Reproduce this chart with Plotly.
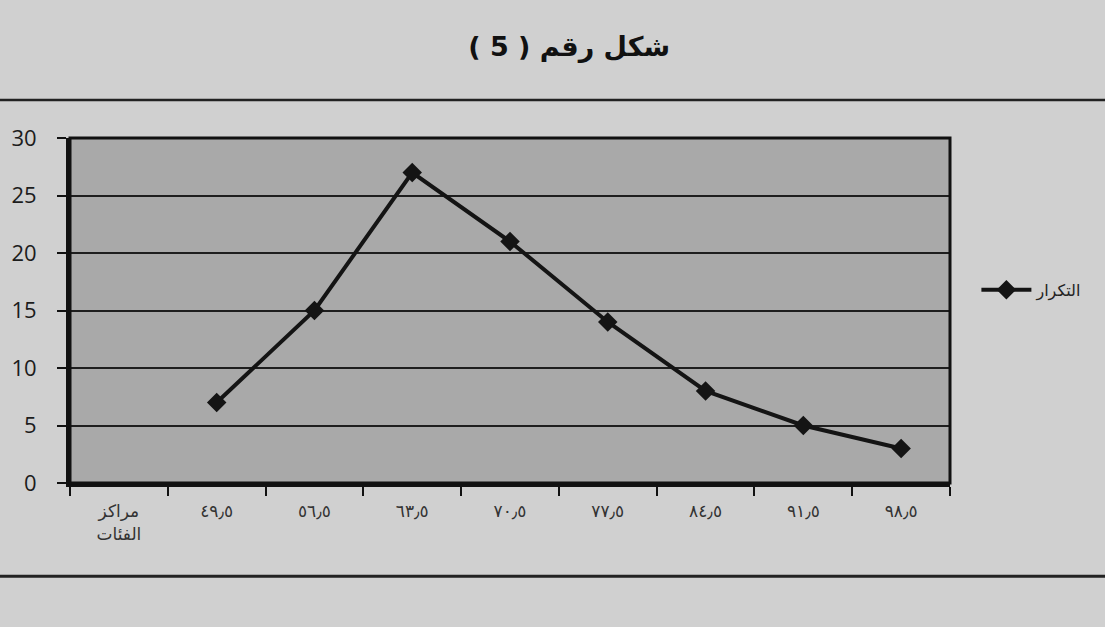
import plotly.graph_objects as go

# Class midpoints (first slot holds the axis caption) and their frequencies
categories = ["مراكز<br>الفئات", "٤٩٫٥", "٥٦٫٥", "٦٣٫٥", "٧٠٫٥", "٧٧٫٥", "٨٤٫٥", "٩١٫٥", "٩٨٫٥"]
frequency = [None, 7, 15, 27, 21, 14, 8, 5, 3]
y_ticks = [0, 5, 10, 15, 20, 25, 30]
series_name = "التكرار"
title_text = "شكل رقم ( 5 )"

fig = go.Figure()
fig.add_trace(go.Scatter(
    x=categories,
    y=frequency,
    mode="lines+markers",
    name=series_name,
    line=dict(color="#141414", width=4),
    marker=dict(symbol="diamond", size=15, color="#141414"),
    connectgaps=False,
    showlegend=True,
))

fig.update_layout(
    width=1105,
    height=627,
    margin=dict(l=70, r=155, t=138, b=144),
    paper_bgcolor="#d0d0d0",
    plot_bgcolor="#a9a9a9",
    title=dict(
        text=title_text,
        x=0.515, xanchor="center",
        y=0.925, yanchor="middle",
        font=dict(family="DejaVu Sans", size=27, color="#111111", weight="bold"),
    ),
    legend=dict(
        x=1.03, xanchor="left",
        y=0.56, yanchor="middle",
        bgcolor="rgba(0,0,0,0)",
        font=dict(family="DejaVu Sans", size=16, color="#222222"),
        itemwidth=50,
    ),
    xaxis=dict(
        type="category",
        categoryorder="array",
        categoryarray=categories,
        range=[-0.5, len(categories) - 0.5],
        tickson="boundaries",
        ticks="outside",
        ticklen=9,
        tickwidth=2,
        tickcolor="#111111",
        showgrid=False,
        showline=True,
        linecolor="#111111",
        linewidth=4,
        mirror=False,
        ticklabelstandoff=10,
        tickfont=dict(family="DejaVu Sans", size=17, color="#333333"),
        zeroline=False,
    ),
    yaxis=dict(
        range=[0, 30],
        tickmode="array",
        tickvals=y_ticks,
        ticks="outside",
        ticklen=9,
        tickwidth=2,
        tickcolor="#111111",
        showgrid=True,
        gridcolor="#1e1e1e",
        gridwidth=1.5,
        showline=True,
        linecolor="#111111",
        linewidth=4,
        zeroline=False,
        ticklabelstandoff=16,
        tickfont=dict(family="Open Sans", size=22, color="#1c1c1c"),
    ),
    shapes=[
        # plot area frame (top and right edges)
        dict(type="rect", xref="paper", yref="paper", x0=0, x1=1, y0=0, y1=1,
             line=dict(color="#111111", width=3)),
        # chart area border lines
        dict(type="line", xref="paper", yref="paper", x0=-0.08, x1=1.18, y0=1.11, y1=1.11,
             line=dict(color="#222222", width=2.5)),
        dict(type="line", xref="paper", yref="paper", x0=-0.08, x1=1.18, y0=-0.27, y1=-0.27,
             line=dict(color="#222222", width=3)),
    ],
)

fig.write_html("out.html")
